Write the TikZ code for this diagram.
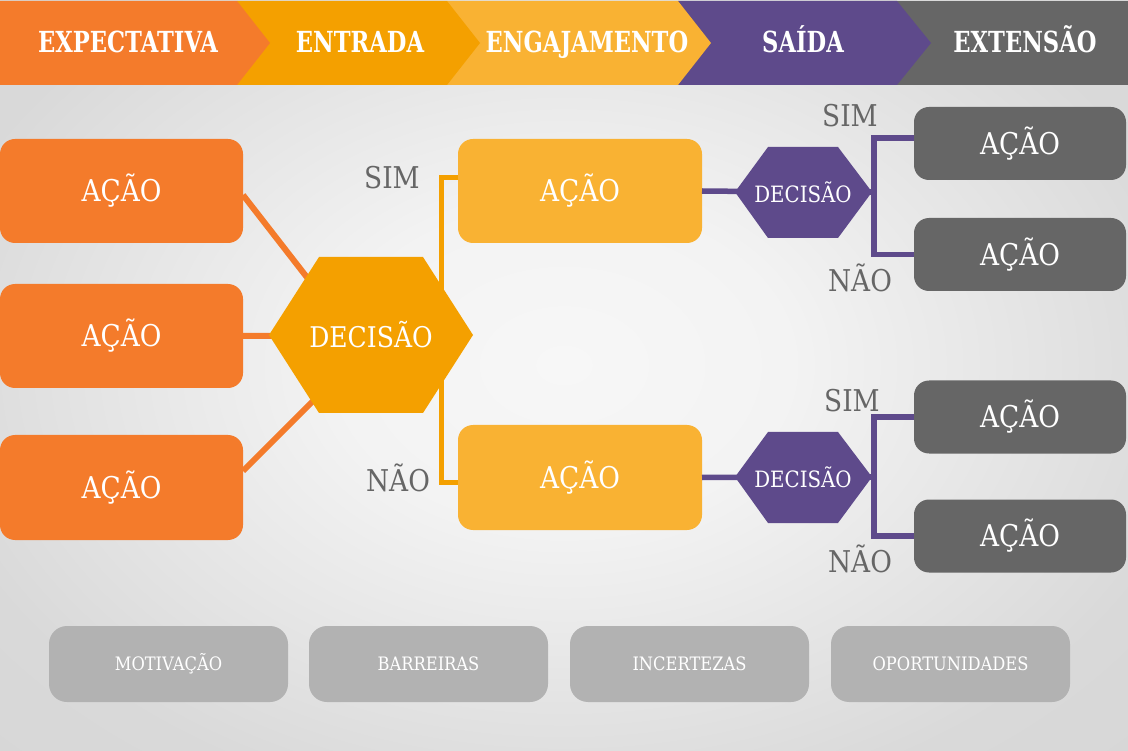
\documentclass[tikz,border=0pt]{standalone}
\usepackage{fontspec}
\setmainfont{DejaVu Serif}[FakeStretch=0.88]
\newfontfamily\hdrfont{DejaVu Serif}[FakeStretch=0.78]
\definecolor{corg}{HTML}{F47B2B}
\definecolor{camb}{HTML}{F4A000}
\definecolor{cyel}{HTML}{F9B233}
\definecolor{cpur}{HTML}{5E4A8B}
\definecolor{cdg}{HTML}{666666}
\definecolor{clg}{HTML}{B2B2B2}
\definecolor{cbgin}{HTML}{F7F7F7}
\definecolor{cbgmid}{HTML}{F3F3F3}
\definecolor{cbgout}{HTML}{D9D9D9}
\definecolor{cbgfar}{HTML}{D3D3D3}
\pgfdeclareradialshading{bgshade}{\pgfpoint{0bp}{0bp}}{color(0bp)=(cbgin); color(10bp)=(cbgmid); color(29bp)=(cbgout); color(50bp)=(cbgfar)}
\begin{document}
\begin{tikzpicture}[x=1pt,y=-1pt,
  hdrtxt/.style={text=white,font=\hdrfont\bfseries\fontsize{29}{30}\selectfont,inner sep=0pt,anchor=base},
  box/.style={rounded corners=15pt,inner sep=0pt,outer sep=0pt,text=white,
     font=\fontsize{30}{34}\selectfont},
  lbox/.style={box,fill=corg,minimum width=243pt},
  ybox/.style={box,fill=cyel,minimum width=244pt},
  gbox/.style={box,fill=cdg,minimum width=212pt,minimum height=73pt},
  bbox/.style={rounded corners=18pt,inner sep=0pt,outer sep=0pt,fill=clg,text=white,
     minimum width=239pt,minimum height=76pt,font=\fontsize{18.5}{20}\selectfont},
  lbl/.style={text=cdg,inner sep=0pt,font=\fontsize{30}{34}\selectfont},
  dectxt/.style={text=white,inner sep=0pt},
  oline/.style={draw=corg,line width=6pt},
  yline/.style={draw=camb,line width=5pt},
  pline/.style={draw=cpur,line width=5.5pt},
]
\useasboundingbox (0,0) rectangle (1128,751);
% background
\fill[cbgfar] (0,0) rectangle (1128,751);
\shade[shading=bgshade] (0,-30) rectangle (1128,760);
% header
\fill[cdg] (897,1) rectangle (1128,85);
\fill[cpur] (678,1) -- (897,1) -- (931,43) -- (897,85) -- (678,85) -- cycle;
\fill[cyel] (447,1) -- (678,1) -- (711,43) -- (678,85) -- (447,85) -- cycle;
\fill[camb] (237,1) -- (447,1) -- (480,43) -- (447,85) -- (237,85) -- cycle;
\fill[corg] (0,1) -- (237,1) -- (270,43) -- (237,85) -- (0,85) -- cycle;
\node[hdrtxt] (h1) at (128,53) {EXPECTATIVA};
\node[hdrtxt] (h2) at (360,53) {ENTRADA};
\node[hdrtxt] (h3) at (587,53) {ENGAJAMENTO};
\node[hdrtxt] (h4) at (803,53) {SAÍDA};
\node[hdrtxt] (h5) at (1025,53) {EXTENSÃO};
% boxes
\node[lbox,minimum height=104pt] (L1) at (121.5,191) {AÇÃO};
\node[lbox,minimum height=104pt] (L2) at (121.5,336) {AÇÃO};
\node[lbox,minimum height=105pt] (L3) at (121.5,487.5) {AÇÃO};
\node[ybox,minimum height=104pt] (Y1) at (580,191) {AÇÃO};
\node[ybox,minimum height=105pt] (Y2) at (580,477.5) {AÇÃO};
\node[gbox] (G1) at (1020,143.5) {AÇÃO};
\node[gbox] (G2) at (1020,254.5) {AÇÃO};
\node[gbox] (G3) at (1020,417) {AÇÃO};
\node[gbox] (G4) at (1020,536) {AÇÃO};
\node[bbox] (B1) at (168.5,664) {MOTIVAÇÃO};
\node[bbox] (B2) at (428.5,664) {BARREIRAS};
\node[bbox] (B3) at (689.5,664) {INCERTEZAS};
\node[bbox] (B4) at (950.5,664) {OPORTUNIDADES};
% labels
\node[lbl] (s1) at (392,178) {SIM};
\node[lbl] (n1) at (398,478) {NÃO};
\node[lbl] (s2) at (850,116) {SIM};
\node[lbl] (n2) at (860,278) {NÃO};
\node[lbl] (s3) at (852,401) {SIM};
\node[lbl] (n3) at (860,559) {NÃO};
% hexagon centres and helper points
\coordinate (Dc) at (371,335);
\coordinate (P1c) at (803,192);
\coordinate (P2c) at (803,477);
\coordinate (d1) at (330,307);
\coordinate (d3) at (335,379);
\coordinate (ytop) at (441,178);
\coordinate (ybot) at (441,482);
\coordinate (bx) at (874,0);
% connectors
\draw[oline] ([yshift=-4pt]L1.east) -- (d1);
\draw[oline] (L2.east) -- (Dc);
\draw[oline] ([yshift=16.5pt]L3.east) -- (d3);
\draw[yline] (Y1.west |- ytop) -- (ytop) -- (ybot) -- (Y2.west |- ybot);
\draw[pline] (Y1.east) -- (P1c);
\draw[pline] (Y2.east) -- (P2c);
\draw[pline] ([yshift=5.5pt]G1.west) -- ([yshift=5.5pt]G1.west -| bx) -- (G2.west -| bx) -- (G2.west);
\draw[pline] (G3.west) -- (G3.west -| bx) -- (G4.west -| bx) -- (G4.west);
\draw[pline] (P1c) -- (P1c -| bx);
\draw[pline] (P2c) -- (P2c -| bx);
% hexagons
\fill[camb] (269,335) -- (319,257) -- (423,257) -- (473,335) -- (423,413) -- (319,413) -- cycle;
\fill[cpur] (735,192) -- (768,147) -- (838,147) -- (872,192) -- (838,238) -- (768,238) -- cycle;
\fill[cpur] (735,477) -- (768,432) -- (838,432) -- (872,477) -- (838,523) -- (768,523) -- cycle;
\node[dectxt,font=\fontsize{28.5}{30}\selectfont] (D) at (Dc) {DECISÃO};
\node[dectxt,font=\fontsize{22.5}{25}\selectfont] (P1) at (P1c) {DECISÃO};
\node[dectxt,font=\fontsize{22.5}{25}\selectfont] (P2) at (P2c) {DECISÃO};
\end{tikzpicture}
\end{document}
